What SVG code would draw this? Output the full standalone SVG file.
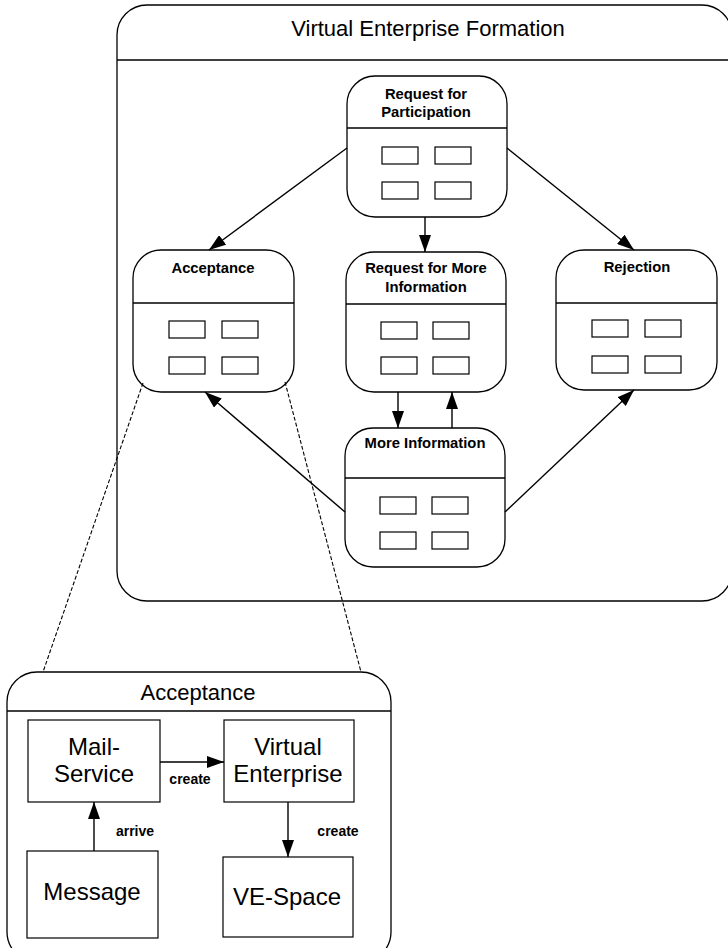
<svg xmlns="http://www.w3.org/2000/svg" width="728" height="948" viewBox="0 0 728 948">
<defs>
<marker id="ah" markerWidth="17" markerHeight="12" refX="17" refY="6" orient="auto" markerUnits="userSpaceOnUse">
<path d="M0,0 L17,6 L0,12 Z" fill="#000"/>
</marker>
<style>
.frame{fill:#fff;stroke:#000;stroke-width:1.3}
.ln{stroke:#000;stroke-width:1.3;fill:none}
.sm{fill:#fff;stroke:#000;stroke-width:1.2}
.nt{font-family:"Liberation Sans",Arial,sans-serif;font-weight:bold;font-size:14.8px;text-anchor:middle}
.big{font-family:"Liberation Sans",Arial,sans-serif;font-size:24px;text-anchor:middle}
.title{font-family:"Liberation Sans",Arial,sans-serif;font-size:22px;text-anchor:middle}
.lbl{font-family:"Liberation Sans",Arial,sans-serif;font-weight:bold;font-size:14px;text-anchor:middle}
.conn{stroke:#000;stroke-width:1.4;fill:none;marker-end:url(#ah)}
.dash{stroke:#000;stroke-width:1.1;fill:none;stroke-dasharray:4,2}
</style>
</defs>
<rect width="728" height="948" fill="#fff"/>

<g id="vef">
<rect class="frame" x="117" y="5" width="615" height="596" rx="30"/>
<line class="ln" x1="117" y1="60" x2="732" y2="60"/>
<text class="title" x="428" y="36">Virtual Enterprise Formation</text>
</g>

<g id="participation">
<rect class="frame" x="347" y="76" width="160" height="141" rx="28"/>
<line class="ln" x1="347" y1="128" x2="507" y2="128"/>
<text class="nt" x="426" y="99">Request for</text>
<text class="nt" x="426" y="117">Participation</text>
<rect class="sm" x="382" y="147" width="36" height="17"/>
<rect class="sm" x="435" y="147" width="36" height="17"/>
<rect class="sm" x="382" y="182" width="36" height="17"/>
<rect class="sm" x="435" y="182" width="36" height="17"/>
</g>

<g id="acceptance">
<rect class="frame" x="133" y="250" width="161" height="142" rx="28"/>
<line class="ln" x1="133" y1="303" x2="294" y2="303"/>
<text class="nt" x="213" y="273">Acceptance</text>
<rect class="sm" x="169" y="321" width="36" height="17"/>
<rect class="sm" x="222" y="321" width="36" height="17"/>
<rect class="sm" x="169" y="357" width="36" height="17"/>
<rect class="sm" x="222" y="357" width="36" height="17"/>
</g>

<g id="rfmi">
<rect class="frame" x="346" y="252" width="160" height="140" rx="28"/>
<line class="ln" x1="346" y1="304" x2="506" y2="304"/>
<text class="nt" x="426" y="273">Request for More</text>
<text class="nt" x="426" y="292">Information</text>
<rect class="sm" x="381" y="322" width="36" height="17"/>
<rect class="sm" x="433" y="322" width="36" height="17"/>
<rect class="sm" x="381" y="357" width="36" height="17"/>
<rect class="sm" x="433" y="357" width="36" height="17"/>
</g>

<g id="rejection">
<rect class="frame" x="556" y="250" width="161" height="140" rx="28"/>
<line class="ln" x1="556" y1="303" x2="717" y2="303"/>
<text class="nt" x="637" y="272">Rejection</text>
<rect class="sm" x="592" y="320" width="36" height="17"/>
<rect class="sm" x="645" y="320" width="36" height="17"/>
<rect class="sm" x="592" y="356" width="36" height="17"/>
<rect class="sm" x="645" y="356" width="36" height="17"/>
</g>

<g id="moreinfo">
<rect class="frame" x="345" y="428" width="160" height="139" rx="28"/>
<line class="ln" x1="345" y1="478" x2="505" y2="478"/>
<text class="nt" x="425" y="448">More Information</text>
<rect class="sm" x="380" y="497" width="36" height="17"/>
<rect class="sm" x="432" y="497" width="36" height="17"/>
<rect class="sm" x="380" y="532" width="36" height="17"/>
<rect class="sm" x="432" y="532" width="36" height="17"/>
</g>

<g id="acceptance-detail">
<rect class="frame" x="7" y="672" width="384" height="290" rx="30"/>
<line class="ln" x1="7" y1="711" x2="391" y2="711"/>
<text class="title" x="198" y="700">Acceptance</text>
</g>
<g id="mailservice">
<rect class="sm" x="28" y="720" width="132" height="82"/>
<text class="big" x="94" y="755">Mail-</text>
<text class="big" x="94" y="782">Service</text>
</g>
<g id="ve">
<rect class="sm" x="224" y="720" width="130" height="82"/>
<text class="big" x="288" y="755">Virtual</text>
<text class="big" x="288" y="782">Enterprise</text>
</g>
<g id="message">
<rect class="sm" x="27" y="851" width="131" height="87"/>
<text class="big" x="92" y="900">Message</text>
</g>
<g id="vespace">
<rect class="sm" x="223" y="857" width="130" height="80"/>
<text class="big" x="287" y="905">VE-Space</text>
</g>

<g id="connectors">
<line class="conn" x1="347" y1="148" x2="209" y2="250"/>
<line class="conn" x1="507" y1="148" x2="634" y2="250"/>
<line class="conn" x1="425" y1="217" x2="425" y2="252"/>
<line class="conn" x1="398" y1="392" x2="398" y2="428"/>
<line class="conn" x1="452" y1="428" x2="452" y2="392"/>
<line class="conn" x1="345" y1="512" x2="205" y2="392"/>
<line class="conn" x1="505" y1="512" x2="634" y2="390"/>
<line class="dash" x1="143" y1="383" x2="43" y2="672"/>
<line class="dash" x1="285" y1="382" x2="361" y2="672"/>
<line class="conn" x1="160" y1="762" x2="224" y2="762"/>
<line class="conn" x1="94" y1="851" x2="94" y2="802"/>
<line class="conn" x1="288" y1="802" x2="288" y2="857"/>
<text class="lbl" x="190" y="784">create</text>
<text class="lbl" x="135" y="836">arrive</text>
<text class="lbl" x="338" y="836">create</text>
</g>
</svg>
